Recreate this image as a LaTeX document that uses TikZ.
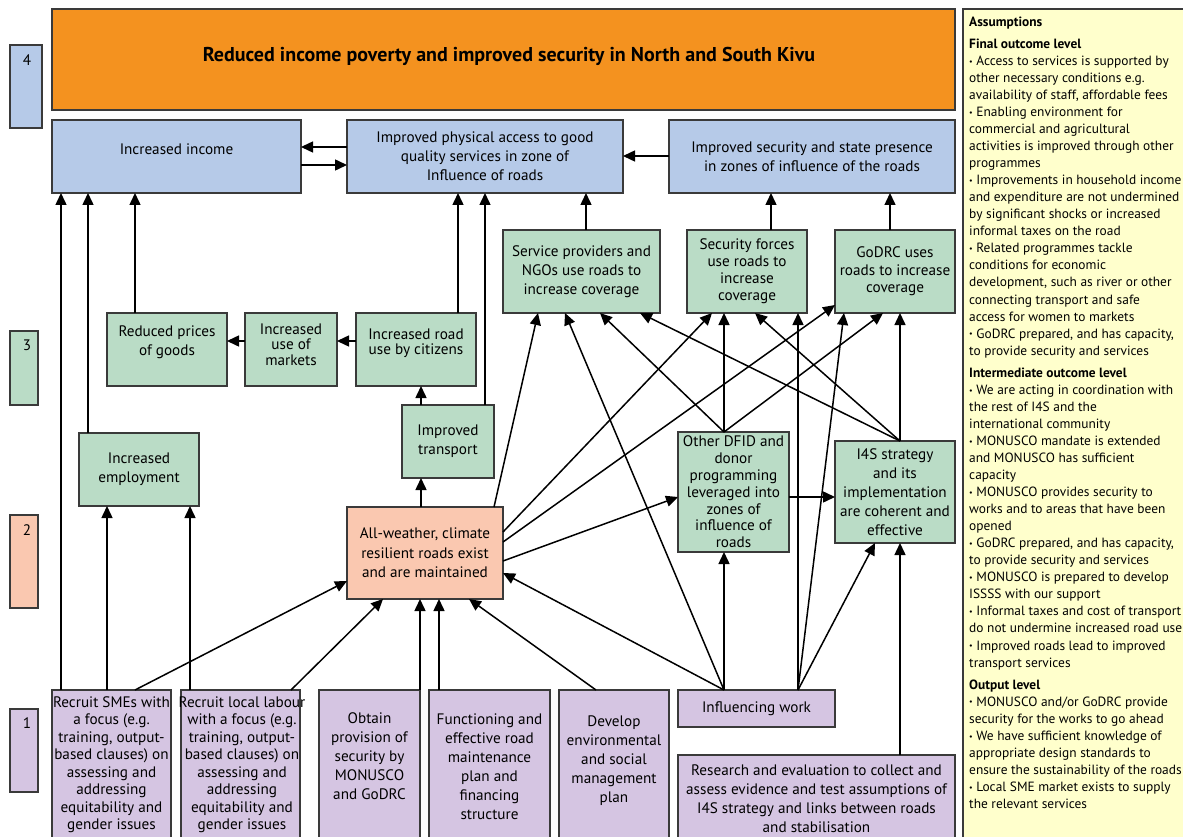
\documentclass[tikz,border=0pt]{standalone}
\usepackage{fontspec}
\setmainfont{PT Sans}
\usetikzlibrary{arrows.meta}
\definecolor{bordc}{HTML}{3A3A3A}
\definecolor{goalc}{HTML}{F4921F}
\definecolor{bluec}{HTML}{B6CAE8}
\definecolor{greenc}{HTML}{BADCC6}
\definecolor{salmc}{HTML}{FAC8B0}
\definecolor{purpc}{HTML}{D5C5E2}
\definecolor{yelc}{HTML}{FFFFCC}
\newcommand{\mybul}{{\fontsize{8}{8}\selectfont\raisebox{0.3ex}{\textbullet}}}
\begin{document}
\begin{tikzpicture}[x=1pt,y=-1pt,
  box/.style={draw=bordc, line width=1.8pt, inner sep=0pt, outer sep=0pt, align=center,
    font=\fontsize{15.2}{19}\selectfont},
  txt/.style={inner sep=0pt, align=center, font=\fontsize{15.2}{19}\selectfont},
  arr/.style={-{Triangle[length=12pt,width=11pt]}, line width=1.5pt, black},
]
\useasboundingbox (0,0) rectangle (1183,837);
\fill[white] (0,0) rectangle (1183,837);
\clip (0,0) rectangle (1183,837);

% level markers
\node[box, fill=bluec, minimum width=32pt, minimum height=83pt] (l4) at (26,86.5) {};
\node[box, fill=greenc, minimum width=28pt, minimum height=74pt] (l3) at (24,368) {};
\node[box, fill=salmc, minimum width=28pt, minimum height=93pt] (l2) at (24,561.5) {};
\node[box, fill=purpc, minimum width=28pt, minimum height=83pt] (l1) at (24,750.5) {};
\node[txt] (l4t) at (27,60) {4};
\node[txt] (l3t) at (27,345) {3};
\node[txt] (l2t) at (27,530) {2};
\node[txt] (l1t) at (27,723) {1};

% goal
\node[box, fill=goalc, minimum width=903pt, minimum height=101pt] (goal) at (503.5,59.5) {};
\node[txt, font=\fontsize{20}{24}\selectfont\bfseries] (goalt) at (509,56)
  {Reduced income poverty and improved security in North and South Kivu};

% level 4 outcomes
\node[box, fill=bluec, minimum width=249pt, minimum height=73pt] (inc) at (176.5,156.5) {};
\node[txt] (inct) at (176.5,149) {Increased income};
\node[box, fill=bluec, minimum width=276pt, minimum height=73pt] (acc) at (485,156.5)
  {Improved physical access to good\\quality services in zone of\\Influence of roads};
\node[box, fill=bluec, minimum width=286pt, minimum height=73pt] (sec) at (812,156.5)
  {Improved security and state presence\\in zones of influence of the roads};

% level 3
\node[box, fill=greenc, minimum width=120pt, minimum height=73pt] (prc) at (167,349.5) {};
\node[txt] (prct) at (167,342) {Reduced prices\\of goods};
\node[box, fill=greenc, minimum width=92pt, minimum height=73pt] (mkt) at (291,349.5) {};
\node[txt, font=\fontsize{15.2}{15.5}\selectfont] (mktt) at (291,344.5) {Increased\\use of\\markets};
\node[box, fill=greenc, minimum width=120pt, minimum height=73pt] (rdu) at (416,349.5) {};
\node[txt, font=\fontsize{15.2}{15.5}\selectfont] (rdut) at (416,343) {Increased road\\use by citizens};
\node[box, fill=greenc, minimum width=157pt, minimum height=83pt] (svc) at (581.5,271.5)
  {Service providers and\\NGOs use roads to\\increase coverage};
\node[box, fill=greenc, minimum width=120pt, minimum height=83pt, font=\fontsize{15.2}{17}\selectfont] (sfc) at (747,271.5)
  {Security forces\\use roads to\\increase\\coverage};
\node[box, fill=greenc, minimum width=120pt, minimum height=83pt, font=\fontsize{15.2}{17.5}\selectfont] (god) at (895,271.5)
  {GoDRC uses\\roads to increase\\coverage};
\node[box, fill=greenc, minimum width=120pt, minimum height=73pt] (emp) at (139,469.5)
  {Increased\\employment};
\node[box, fill=greenc, minimum width=92pt, minimum height=73pt] (trn) at (448,441.5)
  {Improved\\transport};
\node[box, fill=greenc, minimum width=111pt, minimum height=120pt, font=\fontsize{15.2}{16.8}\selectfont] (dfid) at (733.5,492)
  {Other DFID and\\donor\\programming\\leveraged into\\zones of\\influence of\\roads};
\node[box, fill=greenc, minimum width=120pt, minimum height=102pt] (i4s) at (895,492)
  {I4S strategy\\and its\\implementation\\are coherent and\\effective};

% level 2
\node[box, fill=salmc, minimum width=156pt, minimum height=92pt, font=\fontsize{15.2}{19.5}\selectfont] (awr) at (425,553)
  {All-weather, climate\\resilient roads exist\\and are maintained};

% level 1
\node[box, fill=purpc, minimum width=119pt, minimum height=160pt] (sme) at (111.5,770) {};
\node[txt, font=\fontsize{15.2}{17.5}\selectfont] (smet) at (111.5,764.5)
  {Recruit SMEs with\\a focus (e.g.\\training, output-\\based clauses) on\\assessing and\\addressing\\equitability and\\gender issues};
\node[box, fill=purpc, minimum width=119pt, minimum height=160pt] (lab) at (240.5,770) {};
\node[txt, font=\fontsize{15.2}{17.5}\selectfont] (labt) at (242,764.5)
  {Recruit local labour\\with a focus (e.g.\\training, output-\\based clauses) on\\assessing and\\addressing\\equitability and\\gender issues};
\node[box, fill=purpc, minimum width=101pt, minimum height=160pt] (obt) at (369.5,770) {};
\node[txt] (obtt) at (369.5,756)
  {Obtain\\provision of\\security by\\MONUSCO\\and GoDRC};
\node[box, fill=purpc, minimum width=121pt, minimum height=160pt] (fun) at (489.5,770) {};
\node[txt] (funt) at (489.5,767)
  {Functioning and\\effective road\\maintenance\\plan and\\financing\\structure};
\node[box, fill=purpc, minimum width=110pt, minimum height=160pt] (dev) at (614,770) {};
\node[txt] (devt) at (614,760.5)
  {Develop\\environmental\\and social\\management\\plan};
\node[box, fill=purpc, minimum width=157pt, minimum height=37pt] (inf) at (756.5,708.5)
  {Influencing work};
\node[box, fill=purpc, minimum width=277pt, minimum height=95pt] (res) at (816.5,802.5) {};
\node[txt] (rest) at (816.5,799)
  {Research and evaluation to collect and\\assess evidence and test assumptions of\\I4S strategy and links between roads\\and stabilisation};

% assumptions
\node[draw=bordc, line width=1.8pt, fill=yelc, minimum width=232pt, minimum height=841pt,
  inner sep=0pt, outer sep=0pt] (asm) at (1079,429.5) {};
\node[inner sep=0pt, anchor=north west, align=left, font=\fontsize{13.4}{17.05}\selectfont] (asmt) at (969,16.5)
{\textbf{Assumptions}\\[5pt]
\textbf{Final outcome level}\\
\mybul{} Access to services is supported by\\
other necessary conditions e.g.\\
availability of staff, affordable fees\\
\mybul{} Enabling environment for\\
commercial and agricultural\\
activities is improved through other\\
programmes\\
\mybul{} Improvements in household income\\
and expenditure are not undermined\\
by significant shocks or increased\\
informal taxes on the road\\
\mybul{} Related programmes tackle\\
conditions for economic\\
development, such as river or other\\
connecting transport and safe\\
access for women to markets\\
\mybul{} GoDRC prepared, and has capacity,\\
to provide security and services\\[5pt]
\textbf{Intermediate outcome level}\\
\mybul{} We are acting in coordination with\\
the rest of I4S and the\\
international community\\
\mybul{} MONUSCO mandate is extended\\
and MONUSCO has sufficient\\
capacity\\
\mybul{} MONUSCO provides security to\\
works and to areas that have been\\
opened\\
\mybul{} GoDRC prepared, and has capacity,\\
to provide security and services\\
\mybul{} MONUSCO is prepared to develop\\
ISSSS with our support\\
\mybul{} Informal taxes and cost of transport\\
do not undermine increased road use\\
\mybul{} Improved roads lead to improved\\
transport services\\[5pt]
\textbf{Output level}\\
\mybul{} MONUSCO and/or GoDRC provide\\
security for the works to go ahead\\
\mybul{} We have sufficient knowledge of\\
appropriate design standards to\\
ensure the sustainability of the roads\\
\mybul{} Local SME market exists to supply\\
the relevant services};

% connectors
\draw[arr] ([yshift=9.5pt]acc.west) -- ([yshift=9.5pt]inc.east);
\draw[arr] ([yshift=-8.5pt]inc.east) -- ([yshift=-8.5pt]acc.west);
\draw[arr] ([yshift=0.5pt]sec.west) -- ([yshift=0.5pt]acc.east);
\draw[arr] ([xshift=28pt]prc.north west) -- ([xshift=83pt]inc.south west);
\draw[arr] ([yshift=8.5pt]mkt.west) -- ([yshift=8.5pt]prc.east);
\draw[arr] ([yshift=8.5pt]rdu.west) -- ([yshift=8.5pt]mkt.east);
\draw[arr] ([xshift=102pt]rdu.north west) -- ([xshift=111pt]acc.south west);
\draw[arr] ([xshift=83pt]trn.north west) -- ([xshift=138pt]acc.south west);
\draw[arr] ([xshift=19pt]trn.north west) -- ([xshift=65pt]rdu.south west);
\draw[arr] ([xshift=83pt]svc.north west) -- ([xshift=239pt]acc.south west);
\draw[arr] ([xshift=84pt]sfc.north west) -- ([xshift=102pt]sec.south west);
\draw[arr] ([xshift=55pt]god.north west) -- ([xshift=221pt]sec.south west);
\draw[arr] ([xshift=9pt]sme.north west) -- ([xshift=9pt]inc.south west);
\draw[arr] ([xshift=9pt]emp.north west) -- ([xshift=36pt]inc.south west);
\draw[arr] ([xshift=55pt]sme.north west) -- ([xshift=28pt]emp.south west);
\draw[arr] ([xshift=9pt]lab.north west) -- ([xshift=111pt]emp.south west);
\draw[arr] ([xshift=83pt]sme.north west) -- ([yshift=-74pt]awr.north west);
\draw[arr] ([xshift=110pt]lab.north west) -- ([xshift=36pt]awr.south west);
\draw[arr] (obt.north east) -- ([xshift=73pt]awr.south west);
\draw[arr] ([xshift=10pt]fun.north west) -- ([xshift=92pt]awr.south west);
\draw[arr] ([xshift=37pt]dev.north west) -- ([xshift=122pt]awr.south west);
\draw[arr] ([xshift=46pt]inf.north west) -- ([yshift=-66pt]awr.north east);
\draw[arr] ([xshift=46pt]inf.north west) -- ([xshift=46pt]dfid.south west);
\draw[arr] ([xshift=46pt]inf.north west) -- ([xshift=62pt]svc.south west);
\draw[arr] ([xshift=120pt]inf.north west) -- ([xshift=111pt]sfc.south west);
\draw[arr] ([xshift=120pt]inf.north west) -- ([xshift=9pt]god.south west);
\draw[arr] ([xshift=120pt]inf.north west) -- ([xshift=40pt]i4s.south west);
\draw[arr] ([xshift=222pt]res.north west) -- ([xshift=65pt]i4s.south west);
\draw[arr] ([xshift=46pt]dfid.north west) -- ([xshift=97pt]svc.south west);
\draw[arr] ([xshift=46pt]dfid.north west) -- ([xshift=37pt]sfc.south west);
\draw[arr] ([xshift=46pt]dfid.north west) -- ([xshift=48pt]god.south west);
\draw[arr] ([yshift=-65pt]dfid.north east) -- ([yshift=-56pt]i4s.north west);
\draw[arr] ([xshift=65pt]i4s.north west) -- ([xshift=137pt]svc.south west);
\draw[arr] ([xshift=65pt]i4s.north west) -- ([xshift=68pt]sfc.south west);
\draw[arr] ([xshift=65pt]i4s.north west) -- ([xshift=65pt]god.south west);
\draw[arr] ([xshift=74pt]awr.north west) -- ([xshift=19pt]trn.south west);
\draw[arr] ([xshift=147pt]awr.north west) -- ([xshift=35pt]svc.south west);
\draw[arr] ([yshift=-25pt]awr.north east) -- ([xshift=25pt]sfc.south west);
\draw[arr] ([yshift=-35pt]awr.north east) -- ([yshift=8pt]god.south west);
\draw[arr] ([yshift=-54pt]awr.north east) -- ([yshift=-65pt]dfid.north west);
\end{tikzpicture}
\end{document}
